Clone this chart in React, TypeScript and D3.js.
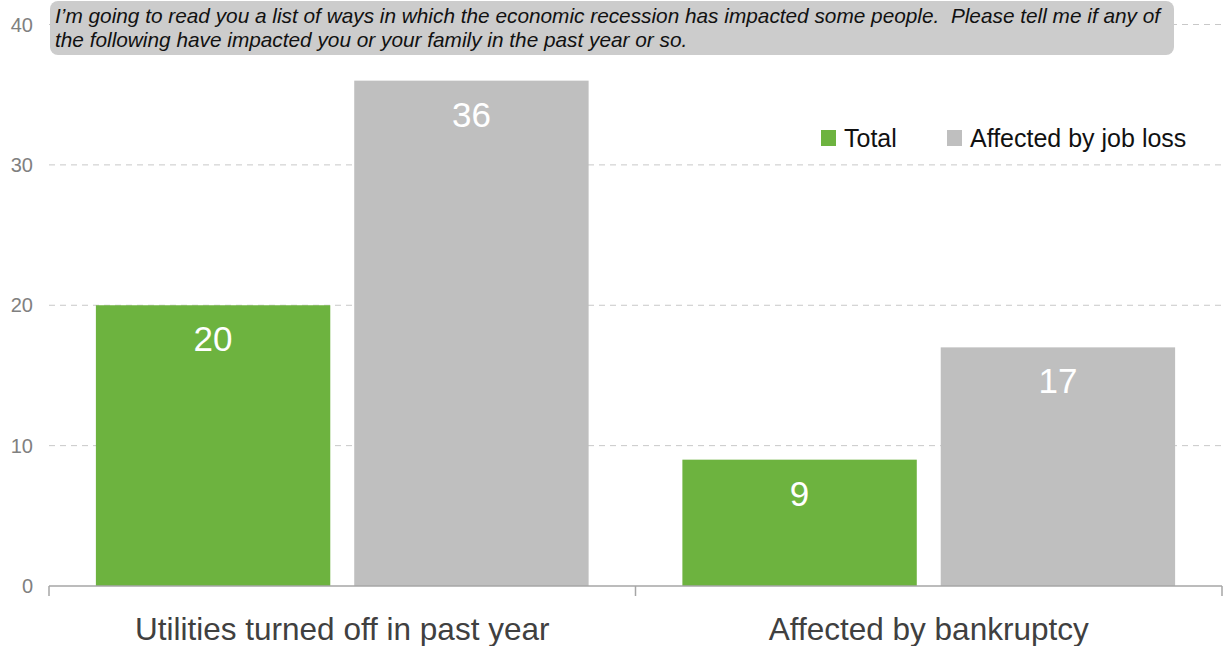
import React from "react";
import * as d3 from "d3";

const categories = ["Utilities turned off in past year", "Affected by bankruptcy"];
const seriesNames = ["Total", "Affected by job loss"];
const totalValues = [20, 9];
const jobLossValues = [36, 17];
const yTicks = [0, 10, 20, 30, 40];
const titleLines = [
  "I\u2019m going to read you a list of ways in which the economic recession has impacted some people.  Please tell me if any of",
  "the following have impacted you or your family in the past year or so.",
];
const colors = ["#6db33f", "#bfbfbf"];

export default function App() {
  const W = 1225, H = 646;
  const left = 49, right = 1222, top = 24.5, bottom = 586;
  const y = d3.scaleLinear().domain([0, 40]).range([bottom, top]);
  const x0 = d3.scaleBand().domain(categories).range([left, right]).paddingInner(0).paddingOuter(0);
  const x1 = d3.scaleBand().domain(seriesNames).range([0, x0.bandwidth()]).paddingInner(0.0927).paddingOuter(0.1815);
  const series = [totalValues, jobLossValues];
  const font = "'Liberation Sans', Arial, sans-serif";

  return (
    <svg width={W} height={H} style={{ position: "absolute", left: 0, top: 0, fontFamily: font }}>
      {yTicks.map((t) => (
        <g key={t}>
          {t > 0 && (
            <line x1={left} x2={right} y1={y(t)} y2={y(t)} stroke="#c8c8c8" strokeDasharray="6,5" strokeWidth={1} />
          )}
          <text x={33} y={y(t) + 7} textAnchor="end" fontSize={20} fill="#808080">{t}</text>
        </g>
      ))}
      {categories.map((c, ci) =>
        seriesNames.map((s, si) => {
          const v = series[si][ci];
          const bx = (x0(c) as number) + (x1(s) as number);
          return (
            <g key={c + s}>
              <rect x={bx} y={y(v)} width={x1.bandwidth()} height={bottom - y(v)} fill={colors[si]} />
              <text x={bx + x1.bandwidth() / 2} y={y(v) + 46} textAnchor="middle" fontSize={35} fill="#ffffff">{v}</text>
            </g>
          );
        })
      )}
      <line x1={left} x2={right} y1={bottom} y2={bottom} stroke="#a6a6a6" strokeWidth={1.5} />
      {[left, left + x0.bandwidth(), right].map((tx, i) => (
        <line key={i} x1={tx} x2={tx} y1={bottom} y2={bottom + 10} stroke="#a6a6a6" strokeWidth={1.5} />
      ))}
      {categories.map((c) => (
        <text key={c} x={(x0(c) as number) + x0.bandwidth() / 2} y={640} textAnchor="middle" fontSize={31.5} fill="#404040">{c}</text>
      ))}
      <rect x={50} y={1} width={1124} height={54} rx={8} fill="#cccccc" />
      {titleLines.map((l, i) => (
        <text key={i} x={55} y={23 + i * 24} fontSize={20.8} fontStyle="italic" fill="#111111" style={{ whiteSpace: "pre" }}>{l}</text>
      ))}
      {seriesNames.map((s, i) => {
        const lx = [821, 947][i];
        return (
          <g key={s}>
            <rect x={lx} y={130} width={15} height={16} fill={colors[i]} />
            <text x={lx + 23} y={147} fontSize={25} fill="#111111">{s}</text>
          </g>
        );
      })}
    </svg>
  );
}
